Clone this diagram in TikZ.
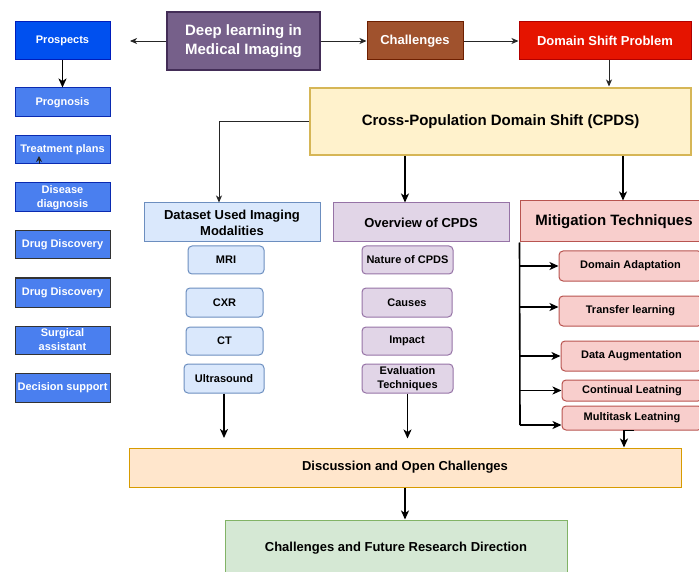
\documentclass[tikz,border=0pt]{standalone}
\usepackage{fontspec}
\setmainfont{Liberation Sans}
\usetikzlibrary{arrows.meta}
\definecolor{dlfill}{HTML}{76608A}\definecolor{dldraw}{HTML}{432D57}
\definecolor{chfill}{HTML}{A0522D}\definecolor{chdraw}{HTML}{6D1F00}
\definecolor{dsfill}{HTML}{E51400}\definecolor{dsdraw}{HTML}{B20000}
\definecolor{prfill}{HTML}{0050EF}\definecolor{prdraw}{HTML}{001DBC}
\definecolor{lbfill}{HTML}{4A7FEF}\definecolor{lbdraw}{HTML}{0A2AB0}
\definecolor{cpfill}{HTML}{FFF2CC}\definecolor{cpdraw}{HTML}{D6B656}
\definecolor{bufill}{HTML}{DAE8FC}\definecolor{budraw}{HTML}{6C8EBF}
\definecolor{pufill}{HTML}{E1D5E7}\definecolor{pudraw}{HTML}{9673A6}
\definecolor{rdfill}{HTML}{F8CECC}\definecolor{rddraw}{HTML}{B85450}
\definecolor{orfill}{HTML}{FFE6CC}\definecolor{ordraw}{HTML}{D79B00}
\definecolor{grfill}{HTML}{D5E8D4}\definecolor{grdraw}{HTML}{82B366}
\begin{document}
\begin{tikzpicture}[x=1pt,y=-1pt,
  box/.style={draw,line width=1pt,inner sep=1pt,align=center,font=\bfseries\fontsize{11}{13}\selectfont},
  wbox/.style={box,text=white},
  rbox/.style={box,rounded corners=4pt},
  bigtxt/.style={font=\bfseries\fontsize{15}{19}\selectfont},
  midtxt/.style={font=\bfseries\fontsize{13}{16}\selectfont},
  thinarr/.style={draw=black!85,line width=0.9pt,-{Stealth[length=7pt,width=6pt,inset=2pt]}},
  thickarr/.style={draw=black,line width=1.6pt,-{Stealth[length=9pt,width=8pt,inset=2.5pt]}},
  plainline/.style={draw=black,line width=1.6pt}]
\useasboundingbox (0,0) rectangle (699,572);

% left column
\node[wbox,fill=prfill,draw=prdraw,minimum width=95pt,minimum height=38pt] (prospects) at (62.5,41) {Prospects};
\node[wbox,fill=lbfill,draw=lbdraw,minimum width=95pt,minimum height=29pt] (prognosis) at (62.5,102.5) {Prognosis};
\node[wbox,fill=lbfill,draw=lbdraw,minimum width=95pt,minimum height=28pt] (treatment) at (62.5,150) {Treatment plans};
\node[wbox,fill=lbfill,draw=lbdraw,minimum width=95pt,minimum height=29pt,font=\bfseries\fontsize{11}{14}\selectfont] (disease) at (62.5,197.5) {Disease\\diagnosis};
\node[wbox,fill=lbfill,draw=black!80,minimum width=95pt,minimum height=28pt] (drug1) at (62.5,245) {Drug Discovery};
\node[wbox,fill=lbfill,draw=black!80,minimum width=95pt,minimum height=29pt] (drug2) at (62.5,292.5) {Drug Discovery};
\node[wbox,fill=lbfill,draw=black!80,minimum width=95pt,minimum height=28pt,font=\bfseries\fontsize{11}{14}\selectfont] (surgical) at (62.5,340) {Surgical\\assistant};
\node[wbox,fill=lbfill,draw=black!80,minimum width=95pt,minimum height=29pt] (decision) at (62.5,387.5) {Decision support};

% top row
\node[wbox,fill=dlfill,draw=dldraw,line width=1.2pt,minimum width=153pt,minimum height=58pt,bigtxt] (dl) at (243.5,41) {Deep learning in\\Medical Imaging};
\node[wbox,fill=chfill,draw=chdraw,minimum width=96pt,minimum height=38pt,midtxt] (chal) at (415,41) {Challenges};
\node[wbox,fill=dsfill,draw=dsdraw,minimum width=172pt,minimum height=38pt,midtxt] (dsp) at (605,41) {Domain Shift Problem};

% CPDS
\node[box,fill=cpfill,draw=cpdraw,line width=2pt,minimum width=381pt,minimum height=67pt,bigtxt] (cpds) at (500.5,121.5) {Cross-Population Domain Shift (CPDS)};

% dataset column
\node[box,fill=bufill,draw=budraw,minimum width=176pt,minimum height=39pt,midtxt] (dataset) at (232,222.5) {Dataset Used Imaging\\Modalities};
\node[rbox,fill=bufill,draw=budraw,minimum width=76pt,minimum height=28pt] (mri) at (226,260) {MRI};
\node[rbox,fill=bufill,draw=budraw,minimum width=77pt,minimum height=29pt] (cxr) at (224.5,302.5) {CXR};
\node[rbox,fill=bufill,draw=budraw,minimum width=77pt,minimum height=28pt] (ct) at (224.5,341) {CT};
\node[rbox,fill=bufill,draw=budraw,minimum width=80pt,minimum height=29pt] (us) at (224,378.5) {Ultrasound};

% overview column
\node[box,fill=pufill,draw=pudraw,minimum width=176pt,minimum height=39pt,midtxt] (overview) at (421,222.5) {Overview of CPDS};
\node[rbox,fill=pufill,draw=pudraw,minimum width=91pt,minimum height=28pt] (nature) at (407.5,260) {Nature of CPDS};
\node[rbox,fill=pufill,draw=pudraw,minimum width=90pt,minimum height=29pt] (causes) at (407,302.5) {Causes};
\node[rbox,fill=pufill,draw=pudraw,minimum width=90pt,minimum height=28pt] (impact) at (407,341) {Impact};
\node[rbox,fill=pufill,draw=pudraw,minimum width=91pt,minimum height=29pt,font=\bfseries\fontsize{11}{14}\selectfont] (evalt) at (407.5,378.5) {Evaluation\\Techniques};

% mitigation column
\node[box,fill=rdfill,draw=rddraw,minimum width=182pt,minimum height=41pt,bigtxt] (mitig) at (611,221.5) {\hspace{6pt}Mitigation Techniques};
\node[rbox,fill=rdfill,draw=rddraw,minimum width=143pt,minimum height=30pt] (da) at (630.5,266) {Domain Adaptation};
\node[rbox,fill=rdfill,draw=rddraw,minimum width=143pt,minimum height=30pt] (tl) at (630.5,311) {Transfer learning};
\node[rbox,fill=rdfill,draw=rddraw,minimum width=141pt,minimum height=30pt] (dau) at (631.5,356) {Data Augmentation};
\node[rbox,fill=rdfill,draw=rddraw,minimum width=140pt,minimum height=21pt] (cl) at (632,390.5) {Continual Leatning};
\node[rbox,fill=rdfill,draw=rddraw,minimum width=140pt,minimum height=24pt] (mt) at (632,418) {Multitask Leatning};

% bottom
\node[box,fill=orfill,draw=ordraw,minimum width=552pt,minimum height=39pt,midtxt] (disc) at (405,467.5) {Discussion and Open Challenges};
\node[box,fill=grfill,draw=grdraw,minimum width=342pt,minimum height=56pt,midtxt] (future) at (396,548) {Challenges and Future Research Direction};

% coordinates for free ends
\coordinate (prosend) at (130,41);
\coordinate (mtop) at ([xshift=12pt]mitig.north);
\coordinate (otop) at ([xshift=-16pt]overview.north);
\coordinate (dtop) at ([xshift=-13pt]dataset.north);
\coordinate (mline) at (mitig.south west);
\coordinate (mbot) at (520,425);
\coordinate (usend) at (224,438);
\coordinate (evend) at ([yshift=-45pt]evalt.south);
\coordinate (ftop) at ([xshift=9pt]future.north);
\coordinate (tpa) at (39,164);
\coordinate (tpb) at (39,156);

% connectors
\draw[thinarr] (dl.west) -- (prosend);
\draw[thinarr] (dl.east) -- (chal.west);
\draw[thinarr] (chal.east) -- (dsp.west);
\draw[thinarr] ([xshift=4pt]dsp.south) -- ++(0,26);
\draw[thinarr] (cpds.west) -| (dtop);
\draw[thickarr] (cpds.south -| otop) -- (otop);
\draw[thickarr] (cpds.south -| mtop) -- (mtop);
\draw[thickarr] (prospects.south) -- (prognosis.north);
\draw[thinarr,-{Stealth[length=6pt,width=6pt]}] (tpa) -- (tpb);

\draw[plainline] (mline) -- (mbot);
\draw[thickarr] (mline |- da.west) -- (da.west);
\draw[thickarr] ([yshift=4pt]mline |- tl.west) -- ([yshift=4pt]tl.west);
\draw[thickarr] (mline |- dau.west) -- (dau.west);
\draw[thickarr] (mline |- cl.west) -- (cl.west);
\draw[thickarr] (mbot) -- (mbot -| mt.west);

\draw[thickarr] (us.south) -- (usend);
\draw[thickarr] (evalt.south) -- (evend);
\draw[thickarr] ([xshift=2pt]mt.south) -| ([xshift=-8pt]mt.south |- disc.north);
\draw[thickarr] (disc.south -| ftop) -- (ftop);
\end{tikzpicture}
\end{document}
